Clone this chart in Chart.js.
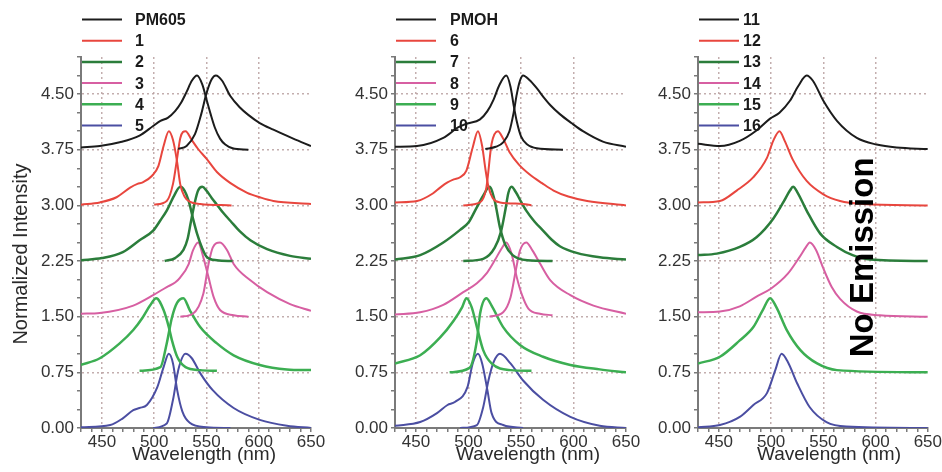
<!DOCTYPE html>
<html>
<head>
<meta charset="utf-8">
<script src="https://cdn.jsdelivr.net/npm/chart.js@4.4.1/dist/chart.umd.min.js"></script>
<style>
  html, body { margin: 0; padding: 0; background: #fff; }
  #wrap { position: relative; width: 942px; height: 472px; overflow: hidden; }
  canvas { position: absolute; top: 0; }
</style>
</head>
<body>
<div id="wrap">
  <canvas id="panel1" width="330" height="472" style="left:0px"></canvas>
  <canvas id="panel2" width="330" height="472" style="left:314px"></canvas>
  <canvas id="panel3" width="325" height="472" style="left:617px"></canvas>
</div>
<script>
// --- data: normalized spectra [nm, intensity], stacked by offsets ---
const offsets = [3.75, 3.0, 2.25, 1.5, 0.75, 0];
const labels1 = ["PM605", "1", "2", "3", "4", "5"];
const labels2 = ["PMOH", "6", "7", "8", "9", "10"];
const labels3 = ["11", "12", "13", "14", "15", "16"];
const xTicks = [450, 500, 550, 600, 650];
const yTicks = [0, 0.75, 1.5, 2.25, 3.0, 3.75, 4.5];

// panel 1
const pm605Abs = [[430,.03],[448,.05],[467,.10],[486,.19],[499,.32],[506,.39],[513,.43],[520,.52],[526,.64],[531,.78],[536,.93],[541,1.0],[546,.88],[550,.68],[554,.48],[558,.30],[563,.15],[568,.07],[575,.02],[590,0]];
const pm605Em = [[523,.01],[531,.05],[539,.21],[545,.48],[550,.76],[555,.95],[559,1.0],[565,.93],[573,.72],[582,.57],[590,.47],[601,.36],[614,.27],[633,.15],[650,.05]];
const c1Abs = [[430,.01],[448,.04],[464,.11],[477,.24],[484,.29],[489,.31],[498,.40],[504,.53],[509,.80],[514,1.0],[518,.88],[522,.58],[525,.28],[529,.12],[534,.05],[544,.02],[574,0]];
const c1Em = [[500,.01],[512,.06],[518,.29],[522,.64],[525,.91],[530,1.0],[536,.88],[542,.76],[550,.63],[560,.45],[573,.30],[589,.17],[601,.11],[614,.06],[650,.02]];
const c2Abs = [[430,.01],[450,.04],[470,.12],[486,.28],[499,.41],[506,.55],[512,.68],[519,.88],[525,1.0],[529,.95],[533,.81],[537,.58],[541,.37],[546,.17],[550,.06],[560,.01],[575,0]];
const c2Em = [[510,0],[520,.04],[528,.15],[532,.30],[535,.52],[539,.80],[542,.95],[546,1.0],[550,.95],[555,.85],[560,.76],[566,.65],[573,.54],[582,.40],[592,.28],[608,.16],[630,.07],[650,.03]];
const c3Abs = [[430,.04],[448,.05],[480,.15],[499,.29],[512,.40],[520,.46],[525,.53],[533,.71],[537,.89],[542,1.0],[547,.80],[552,.53],[557,.26],[563,.09],[576,.02],[590,0]];
const c3Em = [[525,0],[537,.04],[547,.31],[552,.71],[556,.93],[563,1.0],[570,.89],[576,.71],[592,.49],[608,.33],[630,.17],[650,.08]];
const c4Abs = [[430,.10],[448,.19],[467,.39],[480,.57],[489,.74],[496,.90],[502,1.0],[509,.84],[514,.61],[517,.43],[522,.21],[530,.07],[544,.03],[560,.02]];
const c4Em = [[486,.02],[506,.07],[512,.39],[517,.74],[522,.94],[528,1.0],[534,.84],[544,.61],[560,.39],[576,.23],[601,.10],[627,.04],[650,.03]];
const c5Abs = [[430,.01],[458,.04],[470,.13],[480,.24],[486,.27],[493,.31],[503,.55],[509,.82],[514,1.0],[518,.87],[522,.51],[527,.22],[534,.07],[550,.01],[573,0]];
const c5Em = [[499,0],[512,.06],[518,.38],[523,.78],[530,1.0],[536,.94],[544,.74],[556,.51],[576,.27],[601,.11],[627,.03],[650,0]];

// panel 2
const pmohAbs = [[430,.04],[451,.05],[476,.16],[490,.30],[498,.35],[511,.41],[518,.52],[524,.68],[529,.86],[536,1.0],[540,.85],[543,.60],[546,.38],[550,.18],[556,.07],[565,.02],[590,0]];
const pmohEm = [[516,.01],[526,.04],[533,.10],[539,.25],[543,.50],[546,.75],[549,.93],[552,1.0],[558,.94],[565,.83],[572,.70],[578,.60],[587,.48],[598,.36],[609,.25],[628,.11],[650,.04]];
const c6Abs = [[430,.04],[451,.06],[466,.16],[473,.24],[480,.31],[486,.35],[492,.38],[498,.47],[504,.78],[509,1.0],[513,.80],[516,.50],[519,.25],[523,.10],[530,.04],[552,.02],[560,0]];
const c6Em = [[495,0],[511,.04],[517,.24],[522,.83],[528,1.0],[533,.90],[539,.72],[548,.55],[558,.42],[570,.30],[581,.20],[595,.12],[613,.06],[650,0]];
const c7Abs = [[430,.02],[454,.08],[476,.25],[492,.42],[500,.52],[507,.70],[514,.88],[520,1.0],[525,.81],[530,.45],[535,.22],[542,.08],[556,.01],[580,0]];
const c7Em = [[495,0],[514,.03],[525,.18],[531,.40],[535,.68],[538,.92],[541,1.0],[545,.93],[550,.80],[555,.68],[563,.53],[571,.41],[579,.29],[587,.20],[603,.11],[625,.05],[650,.02]];
const c8Abs = [[430,.03],[454,.06],[476,.16],[495,.33],[508,.45],[517,.58],[525,.76],[532,.93],[536,1.0],[541,.85],[546,.53],[551,.29],[557,.11],[568,.04],[580,.02]];
const c8Em = [[520,0],[533,.06],[540,.26],[545,.62],[549,.89],[555,1.0],[561,.89],[568,.72],[578,.49],[597,.29],[619,.15],[650,.04]];
const c9Abs = [[430,.12],[454,.23],[473,.47],[486,.70],[494,.88],[498,1.0],[503,.88],[508,.61],[514,.30],[522,.12],[540,.03],[560,.02]];
const c9Em = [[482,0],[501,.06],[508,.43],[511,.79],[517,1.0],[522,.90],[533,.61],[549,.37],[571,.21],[597,.10],[625,.04],[650,0]];
const c10Abs = [[430,.03],[454,.08],[470,.20],[480,.31],[487,.35],[499,.55],[504,.87],[509,1.0],[513,.87],[518,.51],[522,.20],[533,.04],[552,0]];
const c10Em = [[492,0],[508,.04],[514,.28],[519,.64],[524,.89],[530,1.0],[540,.87],[552,.64],[571,.38],[597,.15],[625,.03],[650,0]];

// panel 3 (emission only)
const c11 = [[430,.08],[451,.05],[470,.12],[486,.26],[499,.42],[508,.50],[518,.66],[526,.86],[534,1.0],[540,.93],[550,.66],[563,.39],[582,.16],[601,.07],[620,.03],[650,.01]];
const c12 = [[430,.04],[451,.06],[467,.20],[483,.38],[496,.64],[502,.87],[508,1.0],[513,.87],[521,.61],[534,.33],[550,.15],[566,.06],[588,.02],[650,0]];
const c13 = [[430,.08],[448,.10],[470,.19],[486,.32],[502,.57],[512,.80],[518,.95],[521,1.0],[525,.93],[534,.68],[547,.37],[563,.19],[578,.08],[595,.02],[650,0]];
const c14 = [[430,.06],[451,.07],[470,.14],[486,.27],[500,.38],[516,.58],[527,.80],[533,.93],[537,1.0],[543,.90],[550,.65],[558,.40],[566,.24],[582,.07],[604,.02],[650,0]];
const c15 = [[430,.12],[451,.21],[470,.43],[483,.61],[492,.84],[499,1.0],[505,.88],[515,.57],[528,.30],[544,.12],[563,.03],[650,0]];
const c16 = [[430,.01],[451,.04],[470,.15],[483,.31],[496,.47],[504,.78],[510,1.0],[516,.89],[525,.60],[537,.28],[553,.08],[572,.02],[650,0]];

const curves1 = [[pm605Abs, pm605Em], [c1Abs, c1Em], [c2Abs, c2Em], [c3Abs, c3Em], [c4Abs, c4Em], [c5Abs, c5Em]];
const curves2 = [[pmohAbs, pmohEm], [c6Abs, c6Em], [c7Abs, c7Em], [c8Abs, c8Em], [c9Abs, c9Em], [c10Abs, c10Em]];
const curves3 = [[c11], [c12], [c13], [c14], [c15], [c16]];

// styles
const colors = ["#1c1c1c", "#e8463e", "#2b7d3b", "#d75fa2", "#3cae52", "#4b4ea2"];
const widths = [2, 2, 2.5, 2, 2.5, 2];
const FONT = '"Liberation Sans", Arial, sans-serif';
const AXIS = "#7a7a7a";
const GRID = "rgba(185,160,160,0.85)";

function near(list, v) {
  return list.some((t) => Math.abs(t - v) < 1e-6);
}

function buildDatasets(labels, curves) {
  const sets = [];
  curves.forEach((group, i) => {
    group.forEach((pts) => {
      sets.push({
        label: labels[i],
        data: pts.map((p) => ({ x: p[0], y: offsets[i] + p[1] })),
        borderColor: colors[i],
        borderWidth: widths[i],
        pointRadius: 0,
        fill: false,
        tension: 0.4,
        cubicInterpolationMode: "monotone",
      });
    });
  });
  return sets;
}

// legend drawn as a stacked list over the top-left corner
const legendPlugin = {
  id: "stackLegend",
  afterDatasetsDraw(chart, args, opts) {
    const ctx = chart.ctx;
    const left = chart.chartArea.left;
    ctx.save();
    ctx.font = "bold 16px " + FONT;
    ctx.textBaseline = "middle";
    ctx.textAlign = "left";
    opts.labels.forEach((lab, i) => {
      const y = opts.top + i * opts.rowGap;
      ctx.strokeStyle = colors[i];
      ctx.lineWidth = widths[i];
      ctx.beginPath();
      ctx.moveTo(left + opts.lineStart, y);
      ctx.lineTo(left + opts.lineEnd, y);
      ctx.stroke();
      ctx.fillStyle = "#1a1a1a";
      ctx.fillText(lab, left + opts.textX, y + 1);
    });
    ctx.restore();
  },
};

// axis titles and the "No Emission" note
const textPlugin = {
  id: "panelText",
  afterDraw(chart, args, opts) {
    const ctx = chart.ctx;
    const a = chart.chartArea;
    ctx.save();
    ctx.fillStyle = "#2a2a2a";
    ctx.textAlign = "center";
    ctx.textBaseline = "alphabetic";
    ctx.font = "19px " + FONT;
    ctx.fillText("Wavelength (nm)", a.left + opts.xTitleShift, 460);
    if (opts.yTitle) {
      ctx.save();
      ctx.translate(27, 254);
      ctx.rotate(-Math.PI / 2);
      ctx.font = "20px " + FONT;
      ctx.fillText(opts.yTitle, 0, 0);
      ctx.restore();
    }
    if (opts.note) {
      const x = chart.scales.x.getPixelForValue(597.5);
      const y = chart.scales.y.getPixelForValue(2.3);
      ctx.save();
      ctx.translate(x, y);
      ctx.rotate(-Math.PI / 2);
      ctx.font = "bold 33px " + FONT;
      ctx.fillStyle = "#000";
      ctx.fillText(opts.note, 0, 0);
      ctx.restore();
    }
    ctx.restore();
  },
};

function makeChart(id, labels, curves, extra) {
  return new Chart(document.getElementById(id), {
    type: "line",
    data: { datasets: buildDatasets(labels, curves) },
    options: {
      responsive: false,
      animation: false,
      events: [],
      layout: { padding: { top: 57, right: extra.padRight, bottom: 0, left: 0 } },
      plugins: {
        legend: { display: false },
        tooltip: { enabled: false },
        stackLegend: { labels: labels, top: 19.5, rowGap: 21.2, lineStart: 1, lineEnd: 41, textX: extra.textX },
        panelText: { xTitleShift: extra.xTitleShift, yTitle: extra.yTitle, note: extra.note },
      },
      scales: {
        x: {
          type: "linear",
          min: 430,
          max: 650,
          afterFit: (s) => { s.height = 44; },
          ticks: {
            stepSize: 10,
            autoSkip: false,
            maxRotation: 0,
            minRotation: 0,
            padding: 0,
            color: "#333",
            font: { family: FONT, size: 17 },
            callback: (v) => (near(xTicks, v) ? String(Math.round(v)) : ""),
          },
          grid: {
            color: (c) => (c.tick && near(xTicks, c.tick.value) && c.tick.value < 649 ? GRID : "rgba(0,0,0,0)"),
            lineWidth: 1.5,
            tickLength: 4,
            tickColor: AXIS,
            tickWidth: 1.5,
          },
          border: { display: true, color: AXIS, width: 2, dash: [2, 3] },
        },
        y: {
          min: 0,
          max: 5,
          afterFit: (s) => { s.width = 81; },
          ticks: {
            stepSize: 0.25,
            autoSkip: false,
            padding: 3,
            color: "#333",
            font: { family: FONT, size: 17 },
            callback: (v) => (near(yTicks, v) ? v.toFixed(2) : ""),
          },
          grid: {
            color: (c) => (c.tick && near(yTicks, c.tick.value) && c.tick.value > 0.1 ? GRID : "rgba(0,0,0,0)"),
            lineWidth: 1.5,
            tickLength: 4,
            tickColor: AXIS,
            tickWidth: 1.5,
          },
          border: { display: true, color: AXIS, width: 2, dash: [2, 3] },
        },
      },
    },
    plugins: [legendPlugin, textPlugin],
  });
}

makeChart("panel1", labels1, curves1, { padRight: 19, textX: 54, xTitleShift: 123, yTitle: "Normalized Intensity" });
makeChart("panel2", labels2, curves2, { padRight: 18, textX: 55, xTitleShift: 133 });
makeChart("panel3", labels3, curves3, { padRight: 14, textX: 45, xTitleShift: 131, note: "No Emission" });
</script>
</body>
</html>
